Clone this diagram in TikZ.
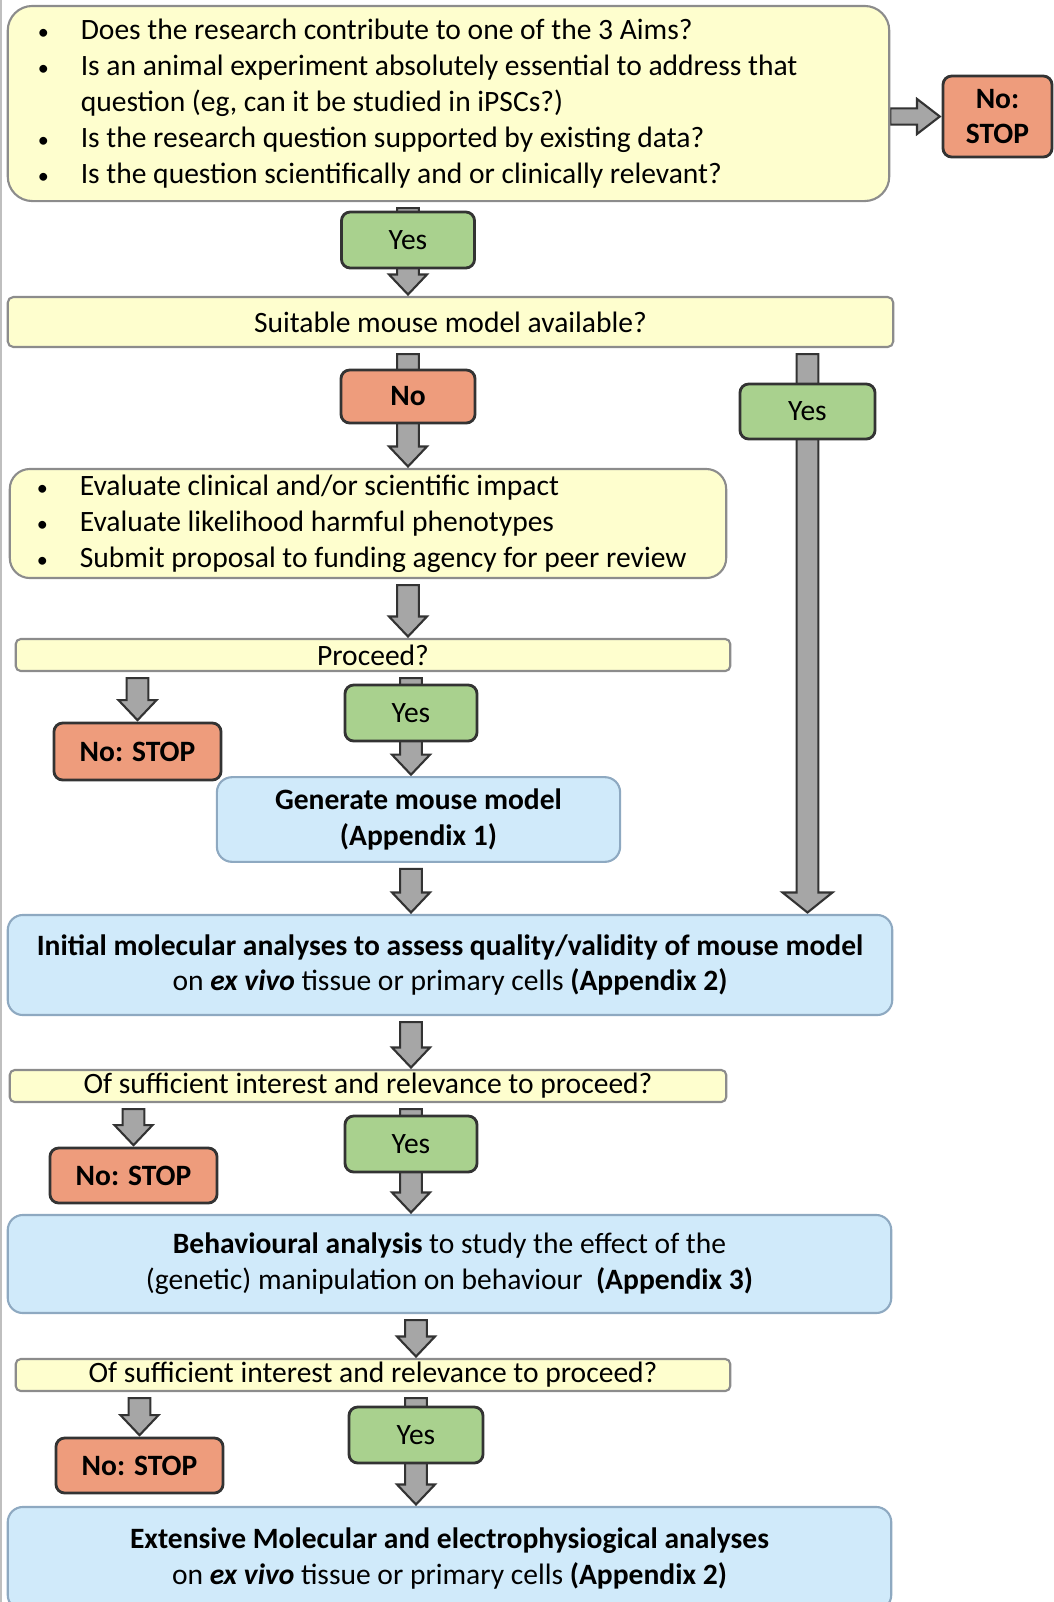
\documentclass[tikz,border=0pt]{standalone}
\usepackage{fontspec}
\setmainfont{Carlito}
\usetikzlibrary{calc,backgrounds}
\definecolor{yfill}{HTML}{FEFECE}
\definecolor{yline}{HTML}{8C8C8C}
\definecolor{gfill}{HTML}{A9D18E}
\definecolor{rfill}{HTML}{EE9C7C}
\definecolor{bfill}{HTML}{D0EAFA}
\definecolor{bline}{HTML}{8EA9C1}
\definecolor{afill}{HTML}{A6A6A6}
\definecolor{dark}{HTML}{333333}
\tikzset{
    ybox/.style={draw=yline, fill=yfill, line width=0.6pt, inner sep=0pt},
    yesbox/.style={draw=dark, fill=gfill, line width=0.8pt, rounded corners=2.5pt,
                   minimum width=1.33cm, minimum height=0.56cm},
    stopbox/.style={draw=dark, fill=rfill, line width=0.8pt, rounded corners=2.5pt,
                    minimum width=1.67cm, minimum height=0.56cm, font=\fontsize{8.4}{10.2}\selectfont\bfseries},
    bbox/.style={draw=bline, fill=bfill, line width=0.6pt, rounded corners=4.3pt, align=center},
    fatarrow/.style={draw=dark, fill=afill, line width=0.6pt}
}
\newcommand{\bul}{\makebox[0.43cm][l]{\scalebox{0.75}{\textbullet}}}
% fat grey arrow pointing down, optional head half width
\newcommand{\fatdown}[3][5.4pt]{%
    \draw[fatarrow] let \p1=(#2), \p2=(#3) in
        (\x1-3.1pt,\y1-1.7pt) -- (\x1-3.1pt,\y2+6.1pt) -- (\x1-#1,\y2+6.1pt) -- (\x1,\y2+0.4pt)
        -- (\x1+#1,\y2+6.1pt) -- (\x1+3.1pt,\y2+6.1pt) -- (\x1+3.1pt,\y1-1.7pt) -- cycle;}
% fat grey arrow pointing right
\newcommand{\fatright}[2]{%
    \draw[fatarrow] let \p1=(#1), \p2=(#2) in
        (\x1,\y1-2.3pt) -- (\x2-7pt,\y1-2.3pt) -- (\x2-7pt,\y1-5pt) -- (\x2-0.5pt,\y1)
        -- (\x2-7pt,\y1+5pt) -- (\x2-7pt,\y1+2.3pt) -- (\x1,\y1+2.3pt) -- cycle;}
\begin{document}
\begin{tikzpicture}[x=0.01cm,y=-0.01cm,every node/.style={font=\fontsize{8.4}{10.2}\selectfont}]
    \useasboundingbox (0,0) rectangle (1054,1602);
    \draw[gray!50,line width=0.8pt] (1,0) -- (1,1602);

    % questions
    \node[ybox,rounded corners=7pt,text width=8.21cm,inner xsep=0.3cm,minimum height=1.95cm,
          align=flush left] (q1) at (448.5,103.5)
        {\bul Does the research contribute to one of the 3 Aims?\\
         \bul Is an animal experiment absolutely essential to address that\\
         \hspace*{0.43cm}question (eg, can it be studied in iPSCs?)\\
         \bul Is the research question supported by existing data?\\
         \bul Is the question scientifically and or clinically relevant?};
    \node[stopbox,minimum width=1.09cm,minimum height=0.81cm,align=center] (stop1) at (997.5,116.5) {No:\\STOP};
    \node[yesbox] (yes1) at (408,240) {Yes};

    \node[ybox,rounded corners=1.6pt,minimum width=8.85cm,minimum height=0.5cm] (q2) at (450.5,322) {Suitable mouse model available?};
    \node[stopbox,minimum width=1.34cm,minimum height=0.53cm] (no2) at (408,396.5) {No};
    \node[yesbox,minimum width=1.35cm,minimum height=0.55cm] (yes2) at (807.5,411.5) {Yes};

    \node[ybox,rounded corners=5.7pt,text width=6.62cm,inner xsep=0.27cm,minimum height=1.09cm,
          align=flush left] (q3) at (368,523.5)
        {\bul Evaluate clinical and/or scientific impact\\
         \bul Evaluate likelihood harmful phenotypes\\
         \bul Submit proposal to funding agency for peer review};

    \node[ybox,rounded corners=1.4pt,minimum width=7.14cm,minimum height=0.32cm] (q4) at (373,655) {Proceed?};
    \node[stopbox,minimum height=0.57cm] (stop4) at (137.5,751.5) {No: STOP};
    \node[yesbox,minimum width=1.32cm] (yes4) at (411,713) {Yes};
    \node[bbox,minimum width=4.03cm,minimum height=0.79cm,font=\fontsize{8.4}{10.2}\selectfont\bfseries] (gen) at (418.5,819.5)
        {Generate mouse model\\(Appendix 1)};

    \node[bbox,minimum width=8.84cm,minimum height=1cm] (init) at (450,965)
        {\textbf{Initial molecular analyses to assess quality/validity of mouse model}\\
         on \textbf{\textit{ex vivo}} tissue or primary cells \textbf{(Appendix 2)}};

    \node[ybox,rounded corners=1.4pt,minimum width=7.16cm,minimum height=0.32cm] (q5) at (368,1086) {Of sufficient interest and relevance to proceed?};
    \node[stopbox,minimum height=0.55cm] (stop5) at (133.5,1175.5) {No: STOP};
    \node[yesbox,minimum width=1.32cm] (yes5) at (411,1144) {Yes};

    \node[bbox,minimum width=8.83cm,minimum height=0.98cm] (beh) at (449.5,1264)
        {\textbf{Behavioural analysis} to study the effect of the\\
         (genetic) manipulation on behaviour\ \ \textbf{(Appendix 3)}};

    \node[ybox,rounded corners=1.4pt,minimum width=7.14cm,minimum height=0.32cm] (q6) at (373,1375) {Of sufficient interest and relevance to proceed?};
    \node[stopbox,minimum height=0.55cm] (stop6) at (139.5,1465.5) {No: STOP};
    \node[yesbox,minimum width=1.34cm] (yes6) at (416,1435) {Yes};

    \node[bbox,minimum width=8.83cm,minimum height=1.03cm] (ext) at (449.5,1558.5)
        {\textbf{Extensive Molecular and electrophysiogical analyses}\\
         on \textbf{\textit{ex vivo}} tissue or primary cells \textbf{(Appendix 2)}};

    % arrows behind the boxes
    \begin{scope}[on background layer]
        \fatright{q1.east |- stop1.west}{stop1.west}
        \foreach \qa/\qb/\qx in {q1/q2/yes1, q2/q3/no2, q3/q4/no2, q4/stop4/stop4, q4/gen/yes4,
                                 gen/init/yes4, init/q5/yes5, q5/stop5/stop5, q5/beh/yes5,
                                 beh/q6/yes6, q6/stop6/stop6, q6/ext/yes6}
        {
            \fatdown{\qa.south -| \qx}{\qb.north -| \qx}
        }
        \fatdown[7.1pt]{q2.south -| yes2}{init.north -| yes2}
    \end{scope}
\end{tikzpicture}
\end{document}
